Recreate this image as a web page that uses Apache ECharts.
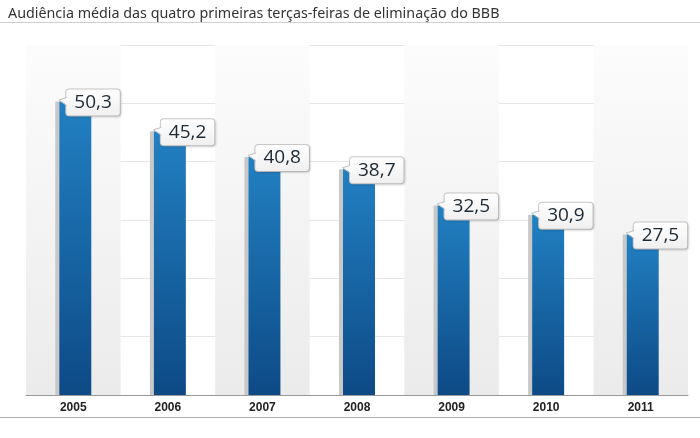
<!DOCTYPE html>
<html>
<head>
<meta charset="utf-8">
<script src="https://cdn.jsdelivr.net/npm/echarts@6/dist/echarts.min.js"></script>
<style>html,body{margin:0;padding:0;background:#fff;}#c{width:700px;height:438px;}</style>
</head>
<body>
<div id="c"></div>
<script>
const titleText = 'Audiência média das quatro primeiras terças-feiras de eliminação do BBB';
const years = ['2005', '2006', '2007', '2008', '2009', '2010', '2011'];
const audiencia = [50.3, 45.2, 40.8, 38.7, 32.5, 30.9, 27.5];
const yTicks = [0, 10, 20, 30, 40, 50, 60];

const chart = echarts.init(document.getElementById('c'));
const fmt = v => String(v.toFixed(1)).replace('.', ',');
const SHADOW_W = 4, BAR_W = 32, LABEL_GAP = 7;

chart.setOption({
  animation: false,
  title: {
    text: titleText, left: 3, top: 2,
    textStyle: { fontFamily: 'Noto Sans', fontSize: 14.3, fontWeight: 'normal', color: '#333' }
  },
  graphic: [
    { type: 'line', shape: { x1: 0, y1: 22.5, x2: 700, y2: 22.5 }, style: { stroke: '#d0d0d0', lineWidth: 1 } },
    { type: 'line', shape: { x1: 0, y1: 417.5, x2: 700, y2: 417.5 }, style: { stroke: '#b0b0b0', lineWidth: 1 } }
  ],
  grid: { left: 26, right: 12, top: 45, bottom: 43 },
  xAxis: {
    type: 'category', data: years,
    axisLine: { lineStyle: { color: '#999', width: 1 } },
    axisTick: { show: false },
    axisLabel: { fontFamily: 'Liberation Sans', fontWeight: 'bold', fontSize: 12, color: '#222', margin: 7 },
    splitArea: {
      show: true,
      areaStyle: {
        color: [
          new echarts.graphic.LinearGradient(0, 0, 0, 1, [
            { offset: 0, color: '#fcfcfc' }, { offset: 1, color: '#ebebeb' }
          ]),
          'rgba(255,255,255,0)'
        ]
      }
    }
  },
  yAxis: {
    type: 'value', min: yTicks[0], max: yTicks[yTicks.length - 1], interval: 10,
    axisLabel: { show: false }, axisLine: { show: false }, axisTick: { show: false },
    splitLine: { lineStyle: { color: '#e6e6e6' } }
  },
  series: [
    {
      type: 'bar', data: audiencia, barWidth: SHADOW_W, barGap: '0%',
      itemStyle: { color: '#c8c8c8' }, silent: true
    },
    {
      type: 'bar', data: audiencia, barWidth: BAR_W,
      itemStyle: {
        color: new echarts.graphic.LinearGradient(0, 0, 0, 1, [
          { offset: 0, color: '#2280c2' }, { offset: 1, color: '#0d4a86' }
        ])
      },
      label: {
        show: true, position: [LABEL_GAP, 1], align: 'left', verticalAlign: 'middle',
        formatter: p => fmt(p.value),
        fontFamily: 'Open Sans', fontSize: 19, lineHeight: 20, color: '#1c2833',
        backgroundColor: new echarts.graphic.LinearGradient(0, 0, 0, 1, [
          { offset: 0, color: '#ffffff' }, { offset: 1, color: '#efefef' }
        ]),
        borderColor: '#c8c8c8', borderWidth: 1, borderRadius: 3,
        padding: [3, 8, 3, 8],
        shadowColor: 'rgba(0,0,0,0.12)', shadowBlur: 2, shadowOffsetX: 1, shadowOffsetY: 1
      }
    },
    {
      type: 'custom', data: audiencia.map((v, i) => [i, v]), z: 10, silent: true,
      renderItem: (params, api) => {
        const pt = api.coord([api.value(0), api.value(1)]);
        const left = pt[0] - (SHADOW_W + BAR_W) / 2 + SHADOW_W;
        const y = pt[1];
        const bx = left + LABEL_GAP + 0.5;
        return {
          type: 'group', children: [
            { type: 'polygon', shape: { points: [[bx + 1, y - 4], [left - 0.5, y - 1.5], [bx + 1, y + 4]] }, style: { fill: '#fafafa' } },
            { type: 'polyline', shape: { points: [[bx, y - 4], [left - 0.5, y - 1.5], [bx, y + 4]] }, style: { stroke: '#c0c0c0', lineWidth: 1, fill: null } }
          ]
        };
      }
    }
  ]
});
</script>
</body>
</html>
